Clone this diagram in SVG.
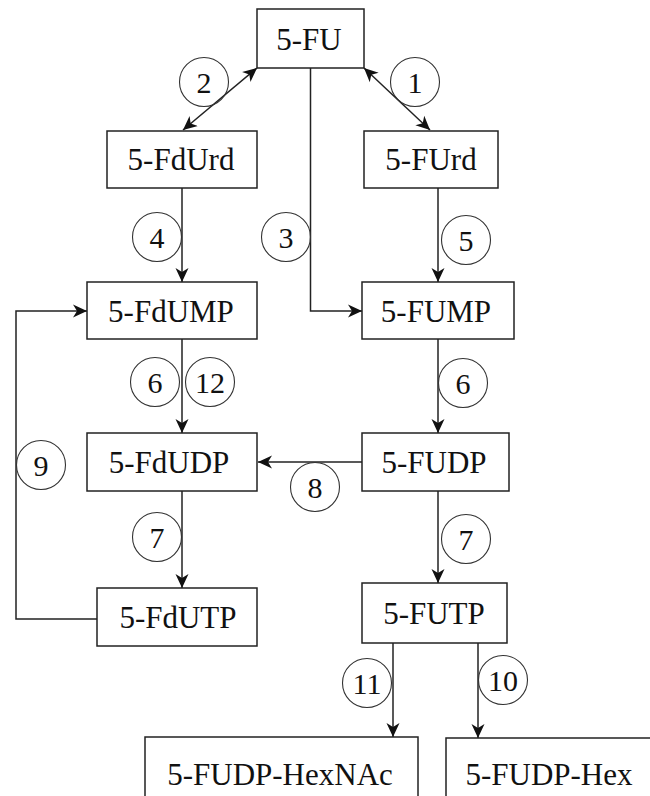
<svg xmlns="http://www.w3.org/2000/svg" width="650" height="796" viewBox="0 0 650 796">
<style>
.box{fill:#fff;stroke:#222;stroke-width:1.5}
.lbl{font-family:"Liberation Serif","Times New Roman",serif;font-size:31px;fill:#111;text-anchor:middle}
.num{font-family:"Liberation Serif","Times New Roman",serif;font-size:30px;fill:#111;text-anchor:middle}
.cir{fill:none;stroke:#333;stroke-width:1.1}
.con{fill:none;stroke:#222;stroke-width:1.5}
</style>
<defs>
<marker id="ah" viewBox="0 0 14 14" refX="14" refY="7" markerWidth="14" markerHeight="14" markerUnits="userSpaceOnUse" orient="auto-start-reverse">
<path d="M0,0.5 L14,7 L0,13.5 L4,7 Z" fill="#111"/>
</marker>
</defs>
<rect width="650" height="796" fill="#fff"/>
<g id="connectors">
<line class="con" x1="183" y1="130" x2="257" y2="68" marker-start="url(#ah)" marker-end="url(#ah)"/>
<line class="con" x1="430" y1="130" x2="364" y2="68" marker-start="url(#ah)" marker-end="url(#ah)"/>
<polyline class="con" points="310.5,68 310.5,311 362,311" marker-end="url(#ah)"/>
<line class="con" x1="182" y1="188" x2="182" y2="282" marker-end="url(#ah)"/>
<line class="con" x1="438" y1="188" x2="438" y2="282" marker-end="url(#ah)"/>
<line class="con" x1="182" y1="339" x2="182" y2="433" marker-end="url(#ah)"/>
<line class="con" x1="438" y1="339" x2="438" y2="433" marker-end="url(#ah)"/>
<line class="con" x1="362" y1="462" x2="258" y2="462" marker-end="url(#ah)"/>
<line class="con" x1="182" y1="491" x2="182" y2="588" marker-end="url(#ah)"/>
<line class="con" x1="438" y1="491" x2="438" y2="583" marker-end="url(#ah)"/>
<line class="con" x1="393" y1="643" x2="393" y2="737" marker-end="url(#ah)"/>
<line class="con" x1="478" y1="643" x2="478" y2="738" marker-end="url(#ah)"/>
<polyline class="con" points="97,619 16,619 16,311 87,311" marker-end="url(#ah)"/>
<g id="labels">
<circle class="cir" cx="204" cy="82" r="24.5"/><text class="num" x="204" y="92.5">2</text>
<circle class="cir" cx="415" cy="82" r="24.5"/><text class="num" x="415" y="92.5">1</text>
<circle class="cir" cx="157" cy="237" r="24.5"/><text class="num" x="157" y="247.5">4</text>
<circle class="cir" cx="286" cy="237" r="24.5"/><text class="num" x="286" y="247.5">3</text>
<circle class="cir" cx="466" cy="240" r="24.5"/><text class="num" x="466" y="250.5">5</text>
<circle class="cir" cx="155" cy="382" r="24.5"/><text class="num" x="155" y="392.5">6</text>
<circle class="cir" cx="210" cy="382" r="24.5"/><text class="num" x="210" y="392.5">12</text>
<circle class="cir" cx="463" cy="383" r="24.5"/><text class="num" x="463" y="393.5">6</text>
<circle class="cir" cx="41" cy="465" r="24.5"/><text class="num" x="41" y="475.5">9</text>
<circle class="cir" cx="315" cy="487" r="24.5"/><text class="num" x="315" y="497.5">8</text>
<circle class="cir" cx="157" cy="537" r="24.5"/><text class="num" x="157" y="547.5">7</text>
<circle class="cir" cx="466" cy="539" r="24.5"/><text class="num" x="466" y="549.5">7</text>
<circle class="cir" cx="367" cy="683" r="24.5"/><text class="num" x="367" y="693.5">11</text>
<circle class="cir" cx="503" cy="680" r="24.5"/><text class="num" x="503" y="690.5">10</text>
</g>
</g>
<g id="n-FU"><rect class="box" x="257" y="9" width="107" height="59"/><text class="lbl" x="309" y="50">5-FU</text></g>
<g id="n-FdUrd"><rect class="box" x="107" y="131" width="150" height="57"/><text class="lbl" x="181" y="170">5-FdUrd</text></g>
<g id="n-FUrd"><rect class="box" x="364" y="131" width="134" height="57"/><text class="lbl" x="431" y="170">5-FUrd</text></g>
<g id="n-FdUMP"><rect class="box" x="87" y="282" width="170" height="57"/><text class="lbl" x="171" y="322">5-FdUMP</text></g>
<g id="n-FUMP"><rect class="box" x="362" y="282" width="152" height="57"/><text class="lbl" x="436" y="322">5-FUMP</text></g>
<g id="n-FdUDP"><rect class="box" x="87" y="433" width="170" height="58"/><text class="lbl" x="169" y="473">5-FdUDP</text></g>
<g id="n-FUDP"><rect class="box" x="362" y="433" width="147" height="58"/><text class="lbl" x="434" y="473">5-FUDP</text></g>
<g id="n-FdUTP"><rect class="box" x="97" y="588" width="160" height="58"/><text class="lbl" x="178" y="628">5-FdUTP</text></g>
<g id="n-FUTP"><rect class="box" x="362" y="583" width="145" height="60"/><text class="lbl" x="434" y="624">5-FUTP</text></g>
<g id="n-HexNAc"><rect class="box" x="145" y="737" width="273" height="62"/><text class="lbl" x="280" y="785">5-FUDP-HexNAc</text></g>
<g id="n-Hex"><rect class="box" x="446" y="738" width="208" height="62"/><text class="lbl" x="549" y="785">5-FUDP-Hex</text></g>
</svg>
